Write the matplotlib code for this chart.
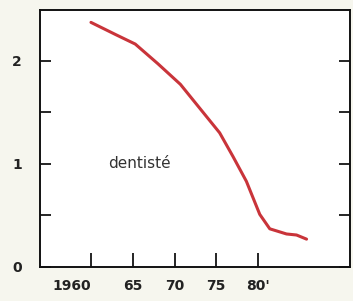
import numpy as np
import matplotlib
matplotlib.use('Agg')
import matplotlib.pyplot as plt
from matplotlib.ticker import FixedLocator

# courbe "dentisté"
annees = [1960, 1961.5, 1963, 1965.3, 1968, 1970.7, 1973, 1975.4, 1977, 1978.6, 1980.2, 1981.4, 1983.4, 1984.6, 1985.8]
valeurs = [2.37, 2.31, 2.25, 2.16, 1.97, 1.77, 1.54, 1.30, 1.07, 0.83, 0.51, 0.37, 0.32, 0.31, 0.27]

xticks = [1960, 1965, 1970, 1975, 1980]
xlabels = ['1960', '65', '70', '75', "80'"]
yticks = [0, 1, 2]
yminor = [0.5, 1.5]

fig = plt.figure(figsize=(3.53, 3.01), dpi=100, facecolor='#f6f6ee')
ax = fig.add_axes([40/353, 34/301, 310/353, 257/301])
ax.set_facecolor('white')

ax.plot(annees, valeurs, color='#c9343a', linewidth=2.2, solid_capstyle='round')
ax.text(1962.0, 1.0, 'dentisté', fontsize=11, color='#333333', va='center', ha='left')

ax.set_xlim(1953.9, 1991.0)
ax.set_ylim(0, 2.49)

ax.set_xticks(xticks)
ax.set_xticklabels(xlabels, fontsize=10, fontweight='bold', color='#222222')
ax.get_xticklabels()[0].set_horizontalalignment('right')
ax.set_yticks(yticks)
ax.set_yticklabels(['0', '1', '2'], fontsize=10, fontweight='bold', color='#222222')
ax.yaxis.set_minor_locator(FixedLocator(yminor))

ax.tick_params(axis='x', direction='in', length=10, width=1.2, pad=9, top=False)
ax.tick_params(axis='y', which='both', direction='in', length=8, width=1.2, right=True, pad=13)

for s in ax.spines.values():
    s.set_linewidth(1.4)
    s.set_color('#111111')

fig.savefig('out.png', dpi=100, facecolor=fig.get_facecolor())
